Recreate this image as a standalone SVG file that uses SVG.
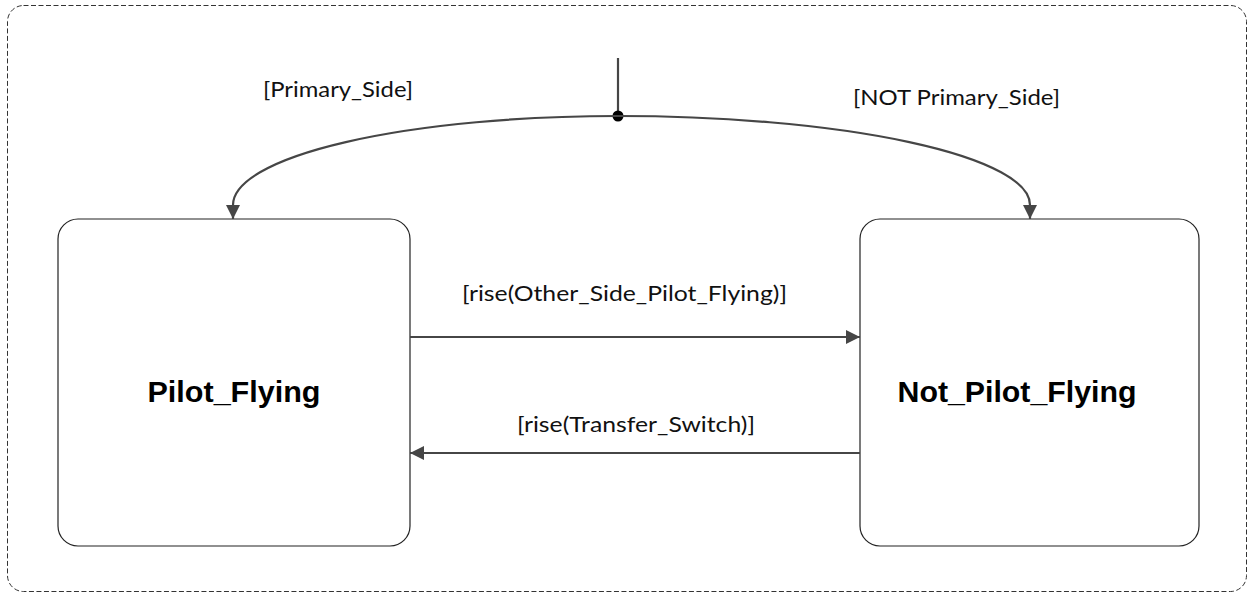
<svg xmlns="http://www.w3.org/2000/svg" width="1249" height="594" viewBox="0 0 1249 594">
  <style>
    .frame { fill: none; stroke: #333; stroke-width: 1; stroke-dasharray: 5 2.5; }
    .state { fill: #fff; stroke: #222; stroke-width: 1.2; }
    .state-name { font-family: "Liberation Sans", Arial, sans-serif; font-weight: bold; font-size: 30px; fill: #000; }
    .guard { font-family: Lato, "Liberation Sans", sans-serif; font-size: 21px; fill: #111; }
    .edge { fill: none; stroke: #464646; stroke-width: 2.2; }
  </style>
  <defs>
    <marker id="arrow" viewBox="0 0 14 14" refX="14" refY="7" markerWidth="14" markerHeight="14" markerUnits="userSpaceOnUse" orient="auto">
      <path d="M0,0 L14,7 L0,14 Z" fill="#464646"/>
    </marker>
  </defs>

  <!-- enclosing state machine frame -->
  <rect class="frame" x="7.5" y="5.5" width="1239" height="586" rx="16" ry="16"/>

  <g id="pilot-flying">
    <rect class="state" x="58" y="219" width="352" height="327" rx="20" ry="20"/>
    <text class="state-name" x="234" y="402" text-anchor="middle" textLength="173" lengthAdjust="spacingAndGlyphs">Pilot_Flying</text>
  </g>

  <g id="not-pilot-flying">
    <rect class="state" x="860" y="219" width="339" height="327" rx="20" ry="20"/>
    <text class="state-name" x="1017" y="402" text-anchor="middle" textLength="239" lengthAdjust="spacingAndGlyphs">Not_Pilot_Flying</text>
  </g>

  <g id="connectors">
    <!-- initial transition into the choice junction -->
    <line class="edge" x1="618" y1="58" x2="618" y2="116"/>
    <circle cx="618" cy="116" r="5.5" fill="#000"/>
    <path class="edge" d="M618,116 A385,89 0 0 0 233,205 L233,219" marker-end="url(#arrow)"/>
    <path class="edge" d="M618,116 A412,89 0 0 1 1030,205 L1030,219" marker-end="url(#arrow)"/>
    <!-- transitions between states -->
    <line class="edge" x1="410" y1="337" x2="860" y2="337" marker-end="url(#arrow)"/>
    <line class="edge" x1="860" y1="453" x2="410" y2="453" marker-end="url(#arrow)"/>
  </g>

  <g id="guards">
    <text class="guard" x="263" y="97" textLength="150" lengthAdjust="spacingAndGlyphs">[Primary_Side]</text>
    <text class="guard" x="853" y="105" textLength="207" lengthAdjust="spacingAndGlyphs">[NOT Primary_Side]</text>
    <text class="guard" x="462" y="301" textLength="325" lengthAdjust="spacingAndGlyphs">[rise(Other_Side_Pilot_Flying)]</text>
    <text class="guard" x="517" y="432" textLength="238" lengthAdjust="spacingAndGlyphs">[rise(Transfer_Switch)]</text>
  </g>
</svg>
